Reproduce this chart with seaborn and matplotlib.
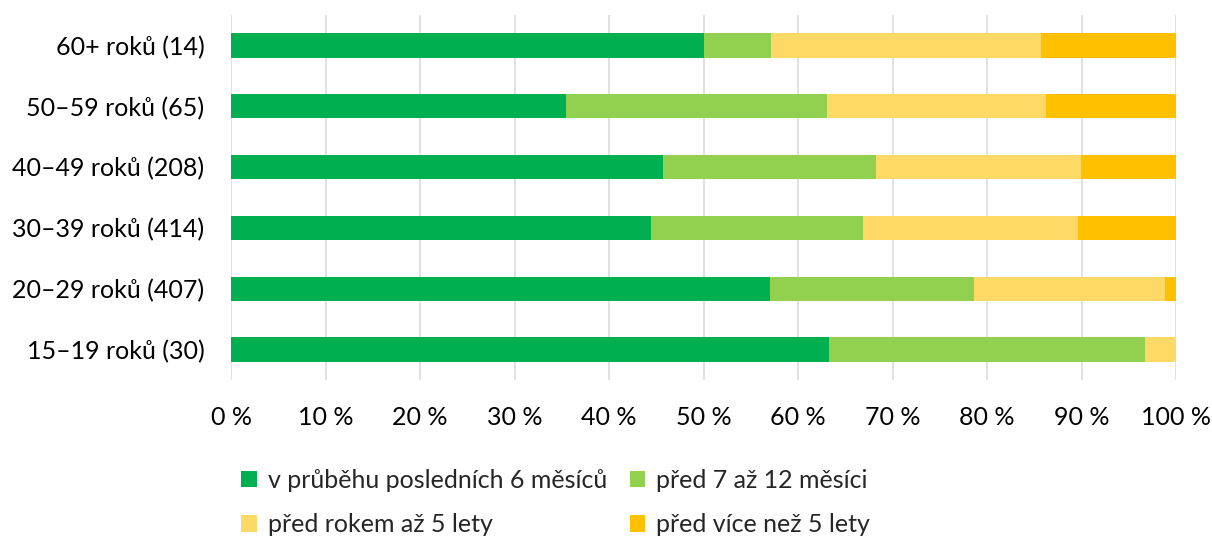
import pandas as pd
import matplotlib.pyplot as plt
import seaborn as sns
from matplotlib.patches import Patch
from matplotlib.ticker import FuncFormatter

# age groups, top to bottom
groups = ['60+ roků (14)', '50–59 roků (65)', '40–49 roků (208)',
          '30–39 roků (414)', '20–29 roků (407)', '15–19 roků (30)']

# shares in percent
last_6m = [50.0, 35.4, 45.7, 44.4, 57.0, 63.3]
m7_12 = [7.1, 27.7, 22.6, 22.5, 21.6, 33.4]
y1_5 = [28.6, 23.1, 21.6, 22.7, 20.2, 3.3]
over_5 = [14.3, 13.8, 10.1, 10.4, 1.2, 0.0]

series = ['v průběhu posledních 6 měsíců', 'před 7 až 12 měsíci',
          'před rokem až 5 lety', 'před více než 5 lety']
colors = ['#00B050', '#92D050', '#FFD966', '#FFC000']

df = pd.DataFrame({'group': groups, series[0]: last_6m, series[1]: m7_12,
                   series[2]: y1_5, series[3]: over_5})
cum = df[series].cumsum(axis=1)

sns.set_style('white')
plt.rcParams['font.family'] = ['Lato', 'DejaVu Sans']

fig, ax = plt.subplots(figsize=(12.12, 5.36), dpi=100)
fig.subplots_adjust(left=0.1906, right=0.9703, top=0.972, bottom=0.291)

# draw cumulative totals, widest first so the narrower ones sit on top
for s, c in reversed(list(zip(series, colors))):
    sns.barplot(x=cum[s], y=df['group'], color=c, width=0.4, ax=ax,
                saturation=1, edgecolor='none', zorder=3)

ax.set_xlim(0, 100)
ax.set_ylim(5.5, -0.5)
ax.set_xticks(range(0, 101, 10))
ax.xaxis.set_major_formatter(FuncFormatter(lambda v, p: f'{int(v)} %'))
ax.grid(axis='x', color='#D9D9D9', linewidth=1.1, zorder=0)
ax.set_axisbelow(True)
for sp in ax.spines.values():
    sp.set_visible(False)
ax.set_xlabel('')
ax.set_ylabel('')
ax.tick_params(axis='x', length=0, pad=19, labelsize=18, labelcolor='#000000')
ax.tick_params(axis='y', length=0, pad=19, labelsize=18, labelcolor='#000000')

# legend fills row by row like in the original
handles = [Patch(facecolor=c, edgecolor='none', label=s) for s, c in zip(series, colors)]
handles = [handles[0], handles[2], handles[1], handles[3]]
fig.legend(handles=handles, loc='upper left', bbox_to_anchor=(0.199, 0.125),
           ncol=2, frameon=False, fontsize=18, handlelength=0.62, handleheight=0.62,
           handletextpad=0.45, columnspacing=0.9, labelspacing=0.85,
           borderaxespad=0, borderpad=0)

plt.savefig('out.png', dpi=100)
